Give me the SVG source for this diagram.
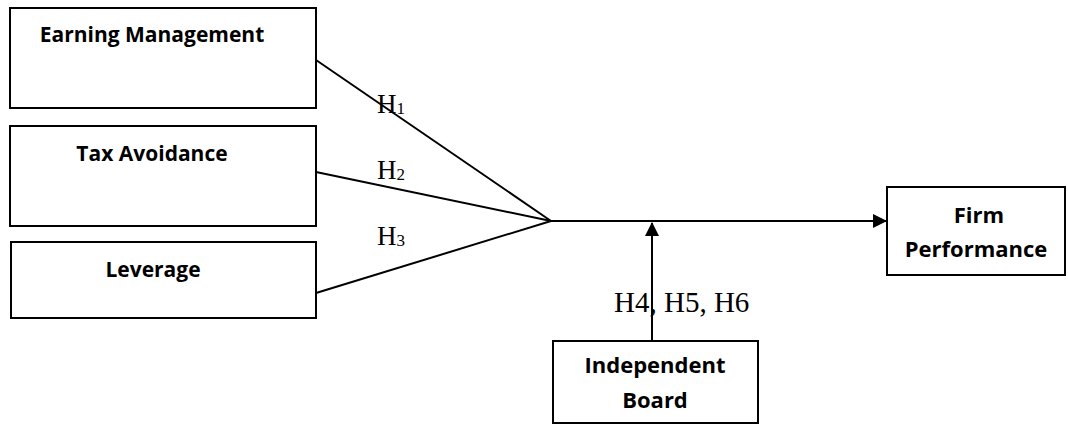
<svg xmlns="http://www.w3.org/2000/svg" width="1068" height="425" viewBox="0 0 1068 425">
<style>
.box{fill:#fff;stroke:#000;stroke-width:2}
.lbl{font-family:"Open Sans","Liberation Sans",sans-serif;font-weight:bold;font-size:21px;fill:#000;text-anchor:middle}
.h{font-family:"Liberation Serif","Times New Roman",serif;font-size:27px;fill:#000}
.sub{font-size:17px}
.ln{stroke:#000;stroke-width:2;fill:none}
</style>
<defs>
<marker id="arr" markerWidth="14" markerHeight="14" refX="13" refY="7" orient="auto" markerUnits="userSpaceOnUse">
<path d="M0,0 L14,7 L0,14 Z" fill="#000"/>
</marker>
</defs>
<g id="earning-management">
<rect class="box" x="10" y="8" width="306" height="100"/>
<text class="lbl" x="152" y="42">Earning Management</text>
</g>
<g id="tax-avoidance">
<rect class="box" x="10" y="126" width="306" height="100"/>
<text class="lbl" x="152" y="161">Tax Avoidance</text>
</g>
<g id="leverage">
<rect class="box" x="11" y="242" width="305" height="76"/>
<text class="lbl" x="153" y="277">Leverage</text>
</g>
<g id="firm-performance">
<rect class="box" x="887" y="187" width="178" height="88"/>
<text class="lbl" x="979" y="223" style="font-size:22px">Firm</text>
<text class="lbl" x="976" y="257" style="font-size:22px">Performance</text>
</g>
<g id="independent-board">
<rect class="box" x="553" y="341" width="205" height="82"/>
<text class="lbl" x="655" y="373" style="font-size:22px">Independent</text>
<text class="lbl" x="655" y="408" style="font-size:22px">Board</text>
</g>
<g id="connectors">
<line class="ln" x1="316" y1="60" x2="551" y2="221"/>
<line class="ln" x1="316" y1="172" x2="551" y2="221"/>
<line class="ln" x1="316" y1="293" x2="551" y2="221"/>
<line class="ln" x1="551" y1="221" x2="886" y2="221" marker-end="url(#arr)"/>
<line class="ln" x1="652" y1="341" x2="652" y2="223" marker-end="url(#arr)"/>
<text class="h" x="377" y="113">H<tspan class="sub" dy="1">1</tspan></text>
<text class="h" x="377" y="179">H<tspan class="sub" dy="1">2</tspan></text>
<text class="h" x="377" y="245">H<tspan class="sub" dy="1">3</tspan></text>
<text class="h" x="614" y="312" style="font-size:29px">H4, H5, H6</text>
</g>
</svg>
